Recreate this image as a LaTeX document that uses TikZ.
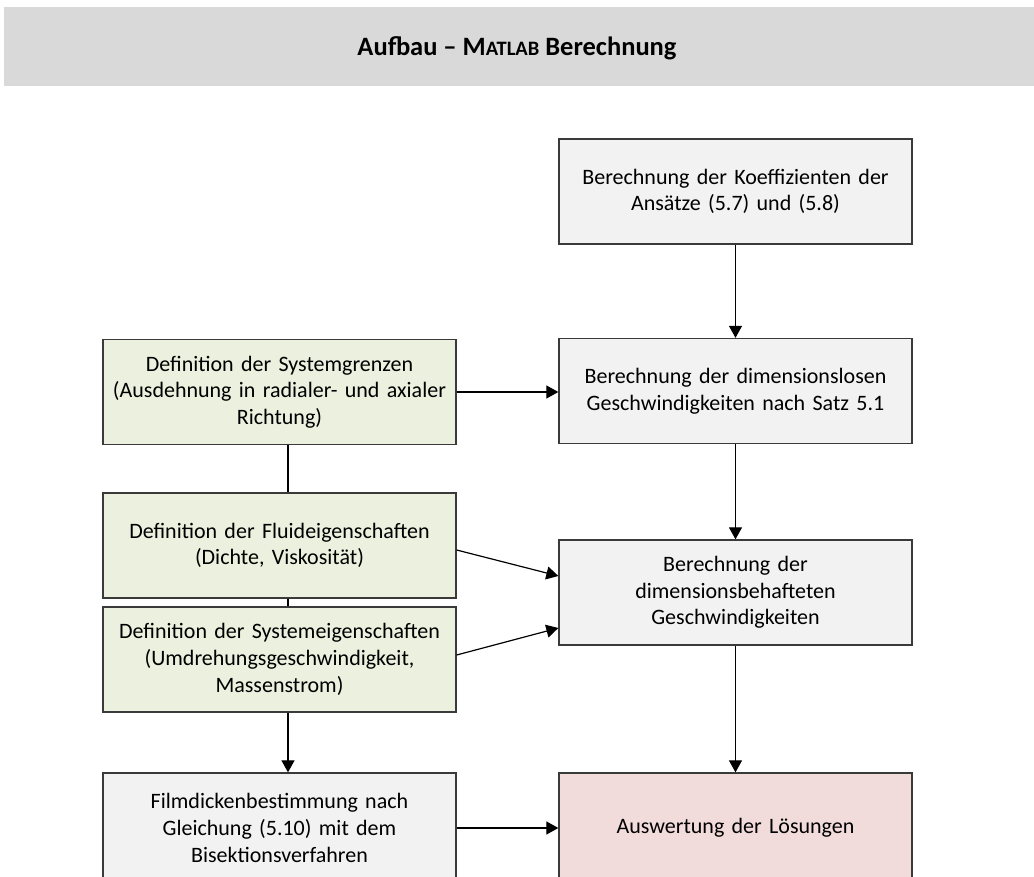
\documentclass[tikz,border=0pt]{standalone}
\usepackage{fontspec}
\setmainfont{Carlito}
\usetikzlibrary{arrows.meta,calc}

\definecolor{bandgray}{HTML}{D9D9D9}
\definecolor{boxgray}{HTML}{F2F2F2}
\definecolor{boxgreen}{HTML}{EBF1DE}
\definecolor{boxpink}{HTML}{F2DCDB}
\definecolor{edge}{HTML}{3A3A3A}

\tikzset{
  flowbox/.style={draw=edge, line width=1.3pt, minimum width=353pt,
    minimum height=105pt, align=center, text width=345pt, inner sep=0pt,
    font=\fontsize{22pt}{26.7pt}\selectfont},
  calcbox/.style={flowbox, fill=boxgray},
  inbox/.style={flowbox, fill=boxgreen},
  resultbox/.style={flowbox, fill=boxpink, minimum height=110pt},
  link/.style={line width=1.2pt, -{Triangle[length=12pt,width=13pt]}},
  plainlink/.style={line width=1.2pt}
}

\begin{document}
\begin{tikzpicture}[x=1pt,y=-1pt]
\useasboundingbox (0,0) rectangle (1034,877);

% title band
\fill[bandgray] (4,7) rectangle (1040,86);
\node[font=\fontsize{26.5pt}{30pt}\selectfont\bfseries] (title) at (517,48)
  {Aufbau – M{\fontsize{20.5pt}{24pt}\selectfont ATLAB} Berechnung};

% right column
\node[calcbox] (coef) at (735.5,191.5)
  {Berechnung der Koeffizienten der\\Ansätze (5.7) und (5.8)};
\node[calcbox] (dimless) at (735.5,391)
  {Berechnung der dimensionslosen\\Geschwindigkeiten nach Satz 5.1};
\node[calcbox] (dimful) at (735.5,592.5)
  {Berechnung der\\dimensionsbehafteten\\Geschwindigkeiten};
\node[resultbox] (eval) at (735.5,828)
  {Auswertung der Lösungen};

% left column
\node[inbox] (limits) at (279.5,392)
  {Definition der Systemgrenzen\\(Ausdehnung in radialer- und axialer\\Richtung)};
\node[inbox] (fluid) at (279.5,545.5)
  {Definition der Fluideigenschaften\\(Dichte, Viskosität)};
\node[inbox] (system) at (279.5,659.5)
  {Definition der Systemeigenschaften\\(Umdrehungsgeschwindigkeit,\\Massenstrom)};
\node[calcbox, minimum height=110pt] (film) at (279.5,828)
  {Filmdickenbestimmung nach\\Gleichung (5.10) mit dem\\Bisektionsverfahren};

% vertical trunk of the left column
\coordinate (trunk) at (288,0);

% connectors
\draw[link] (coef) -- (dimless);
\draw[link] (dimless) -- (dimful);
\draw[link] (dimful) -- (eval);
\draw[link] (limits.east) -- (limits.east -| dimless.west);
\draw[link] ($(fluid.east)+(0,4.5)$) -- ($(dimful.west)+(0,-16.5)$);
\draw[link] ($(system.east)+(0,-4.5)$) -- ($(dimful.west)+(0,35.5)$);
\draw[plainlink] (limits.south -| trunk) -- (fluid.north -| trunk);
\draw[plainlink] (fluid.south -| trunk) -- (system.north -| trunk);
\draw[link] (system.south -| trunk) -- (film.north -| trunk);
\draw[link] (film) -- (eval);
\end{tikzpicture}
\end{document}
